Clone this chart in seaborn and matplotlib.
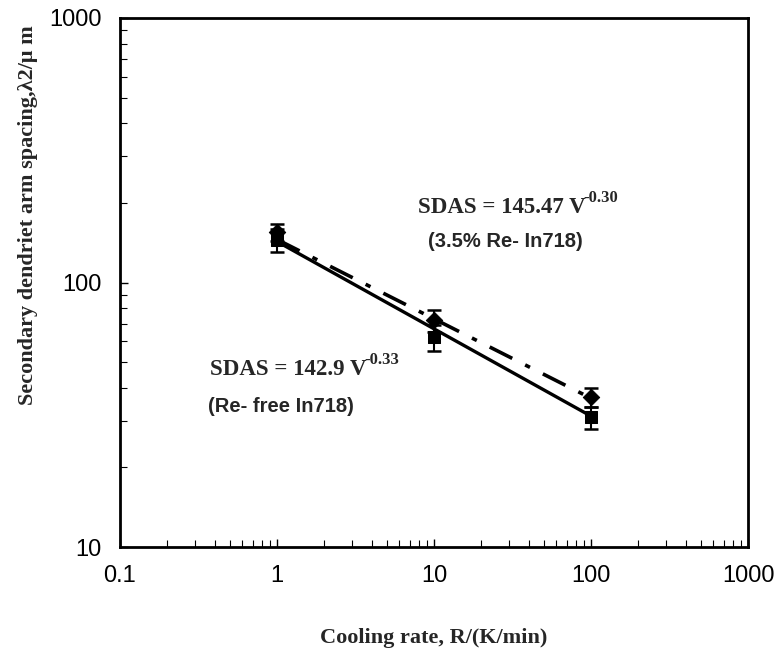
import numpy as np
import pandas as pd
import matplotlib
matplotlib.use("Agg")
import matplotlib.pyplot as plt
import seaborn as sns

# Measured secondary dendrite arm spacing vs cooling rate
cooling_rate = [1, 10, 100]
sdas_re_free = [145, 62, 31]
err_re_free = [15, 7, 3]
sdas_re = [155, 72, 37]
err_re = [12, 7, 3]

# Power-law fit coefficients  SDAS = A * V^n
fit_re_free = (142.9, -0.33)
fit_re = (145.47, -0.30)

x_ticks = [0.1, 1, 10, 100, 1000]
x_tick_labels = ["0.1", "1", "10", "100", "1000"]
y_ticks = [10, 100, 1000]
y_tick_labels = ["10", "100", "1000"]

sns.set_style("white")
plt.rcParams["font.family"] = ["Liberation Sans", "DejaVu Sans"]

fig = plt.figure(figsize=(7.76, 6.64), dpi=100)
ax = fig.add_axes([0.1546, 0.176, 0.8094, 0.797])

df_free = pd.DataFrame({"rate": cooling_rate, "sdas": sdas_re_free, "err": err_re_free})
df_re = pd.DataFrame({"rate": cooling_rate, "sdas": sdas_re, "err": err_re})

# fitted curves over the measured range
v = np.logspace(0, 2, 50)
fit_df = pd.DataFrame({
    "rate": np.concatenate([v, v]),
    "sdas": np.concatenate([fit_re_free[0] * v ** fit_re_free[1], fit_re[0] * v ** fit_re[1]]),
    "alloy": ["Re-free"] * len(v) + ["3.5% Re"] * len(v),
})
sns.lineplot(data=fit_df[fit_df.alloy == "Re-free"], x="rate", y="sdas", ax=ax,
             color="black", lw=2.4, linestyle="-", legend=False)
sns.lineplot(data=fit_df[fit_df.alloy == "3.5% Re"], x="rate", y="sdas", ax=ax,
             color="black", lw=2.6, linestyle=(0, (7, 4, 1.5, 4)), legend=False)

# error bars
ax.errorbar(df_free.rate, df_free.sdas, yerr=df_free.err, fmt="none", ecolor="black",
            elinewidth=1.5, capsize=5, capthick=1.8, zorder=3)
ax.errorbar(df_re.rate, df_re.sdas, yerr=df_re.err, fmt="none", ecolor="black",
            elinewidth=1.5, capsize=5, capthick=1.8, zorder=3)

sns.scatterplot(data=df_free, x="rate", y="sdas", ax=ax, marker="s", s=85,
                color="black", edgecolor="black", zorder=4)
sns.scatterplot(data=df_re, x="rate", y="sdas", ax=ax, marker="D", s=70,
                color="black", edgecolor="black", zorder=4)

ax.set_xscale("log")
ax.set_yscale("log")
ax.set_xlim(0.1, 1000)
ax.set_ylim(10, 1000)
ax.set_xticks(x_ticks)
ax.set_xticklabels(x_tick_labels)
ax.set_yticks(y_ticks)
ax.set_yticklabels(y_tick_labels)
ax.tick_params(axis="both", which="both", bottom=True, left=True, top=False, right=False,
               direction="in", colors="black")
ax.tick_params(axis="both", which="major", length=6, width=1, labelsize=17)
ax.tick_params(axis="x", which="major", pad=13)
ax.tick_params(axis="y", which="major", pad=13)
ax.tick_params(axis="both", which="minor", length=5, width=0.8)
for sp in ax.spines.values():
    sp.set_linewidth(2)
    sp.set_color("black")

ax.set_xlabel("Cooling rate, R/(K/min)", family=["Liberation Serif"],
              fontweight="bold", fontsize=16)
ax.set_ylabel("Secondary dendriet arm spacing,λ2/μ m",
              family=["Liberation Serif"], fontweight="bold", fontsize=16)
ax.yaxis.set_label_coords(-0.13, 0.628)
ax.xaxis.set_label_coords(0.5, -0.152)

serif_bold = dict(family=["Liberation Serif"], fontweight="bold")
sans_bold = dict(family=["Liberation Sans"], fontweight="bold")

t1 = ax.text(0.475, 0.641, "SDAS = 145.47 V", transform=ax.transAxes,
             fontsize=16.5, va="center", **serif_bold)
ax.annotate("-0.30", xy=(1, 0.6), xycoords=t1, xytext=(-1.5, 0), textcoords="offset points",
            fontsize=12, va="bottom", ha="left", **serif_bold)
ax.text(0.49, 0.577, "(3.5% Re- In718)", transform=ax.transAxes,
        fontsize=14.5, va="center", **sans_bold)

t2 = ax.text(0.143, 0.335, "SDAS = 142.9 V", transform=ax.transAxes,
             fontsize=16.5, va="center", **serif_bold)
ax.annotate("-0.33", xy=(1, 0.6), xycoords=t2, xytext=(-1.5, 0), textcoords="offset points",
            fontsize=12, va="bottom", ha="left", **serif_bold)
ax.text(0.14, 0.265, "(Re- free In718)", transform=ax.transAxes,
        fontsize=14.5, va="center", **sans_bold)

fig.savefig("out.png", dpi=100, facecolor="white")
